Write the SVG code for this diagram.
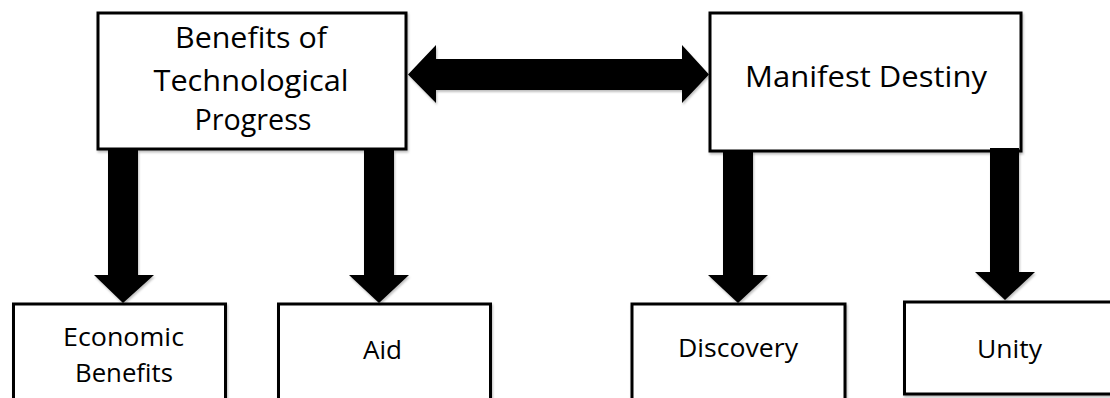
<svg xmlns="http://www.w3.org/2000/svg" width="1110" height="398" viewBox="0 0 1110 398">
  <defs>
    <filter id="soft" x="-5%" y="-5%" width="115%" height="115%">
      <feDropShadow dx="1" dy="2" stdDeviation="1" flood-color="#000" flood-opacity="0.25"/>
    </filter>
    <style>
      .box { fill: #fff; stroke: #000; stroke-width: 3; filter: url(#soft); }
      .arrow { fill: #000; filter: url(#soft); }
      .big { font-family: "Open Sans", "Liberation Sans", sans-serif; font-size: 30px; fill: #000; text-anchor: middle; }
      .small { font-family: "Open Sans", "Liberation Sans", sans-serif; font-size: 26px; fill: #000; text-anchor: middle; }
    </style>
  </defs>
  <rect width="1110" height="398" fill="#fff"/>

  <g id="node-tech">
    <rect class="box" x="98" y="13" width="308" height="136"/>
    <text class="big" x="251" y="48" textLength="152" lengthAdjust="spacingAndGlyphs">Benefits of</text>
    <text class="big" x="251" y="91" textLength="195" lengthAdjust="spacingAndGlyphs">Technological</text>
    <text class="big" x="253" y="130" textLength="117" lengthAdjust="spacingAndGlyphs">Progress</text>
  </g>

  <g id="node-manifest">
    <rect class="box" x="710" y="13" width="311" height="138"/>
    <text class="big" x="866" y="87" textLength="242" lengthAdjust="spacingAndGlyphs">Manifest Destiny</text>
  </g>

  <g id="node-economic">
    <rect class="box" x="13.5" y="304" width="212" height="96"/>
    <text class="small" x="123.5" y="346" textLength="121" lengthAdjust="spacingAndGlyphs">Economic</text>
    <text class="small" x="124" y="382" textLength="98" lengthAdjust="spacingAndGlyphs">Benefits</text>
  </g>

  <g id="node-aid">
    <rect class="box" x="278.5" y="304" width="212" height="96"/>
    <text class="small" x="382.5" y="359" textLength="39" lengthAdjust="spacingAndGlyphs">Aid</text>
  </g>

  <g id="node-discovery">
    <rect class="box" x="632" y="304" width="213" height="96"/>
    <text class="small" x="738" y="357" textLength="120" lengthAdjust="spacingAndGlyphs">Discovery</text>
  </g>

  <g id="node-unity">
    <rect class="box" x="904.5" y="302" width="210" height="92"/>
    <text class="small" x="1009.5" y="358" textLength="65" lengthAdjust="spacingAndGlyphs">Unity</text>
  </g>

  <g id="connectors">
    <!-- two-way block arrow between the top boxes -->
    <polygon class="arrow" points="408,74.5 436,45 436,59 682,59 682,45 709,74.5 682,103 682,90 436,90 436,103"/>
    <!-- block arrows down to the lower boxes -->
    <polygon class="arrow" points="108,150 138,150 138,275 154,275 123,303 94,275 108,275"/>
    <polygon class="arrow" points="364,150 394,150 394,275 409,275 379,303 349,275 364,275"/>
    <polygon class="arrow" points="723,151 753,151 753,275 768,275 738,303 708,275 723,275"/>
    <polygon class="arrow" points="990,148 1019,148 1019,272 1035,272 1005,300 975,272 990,272"/>
  </g>
</svg>
